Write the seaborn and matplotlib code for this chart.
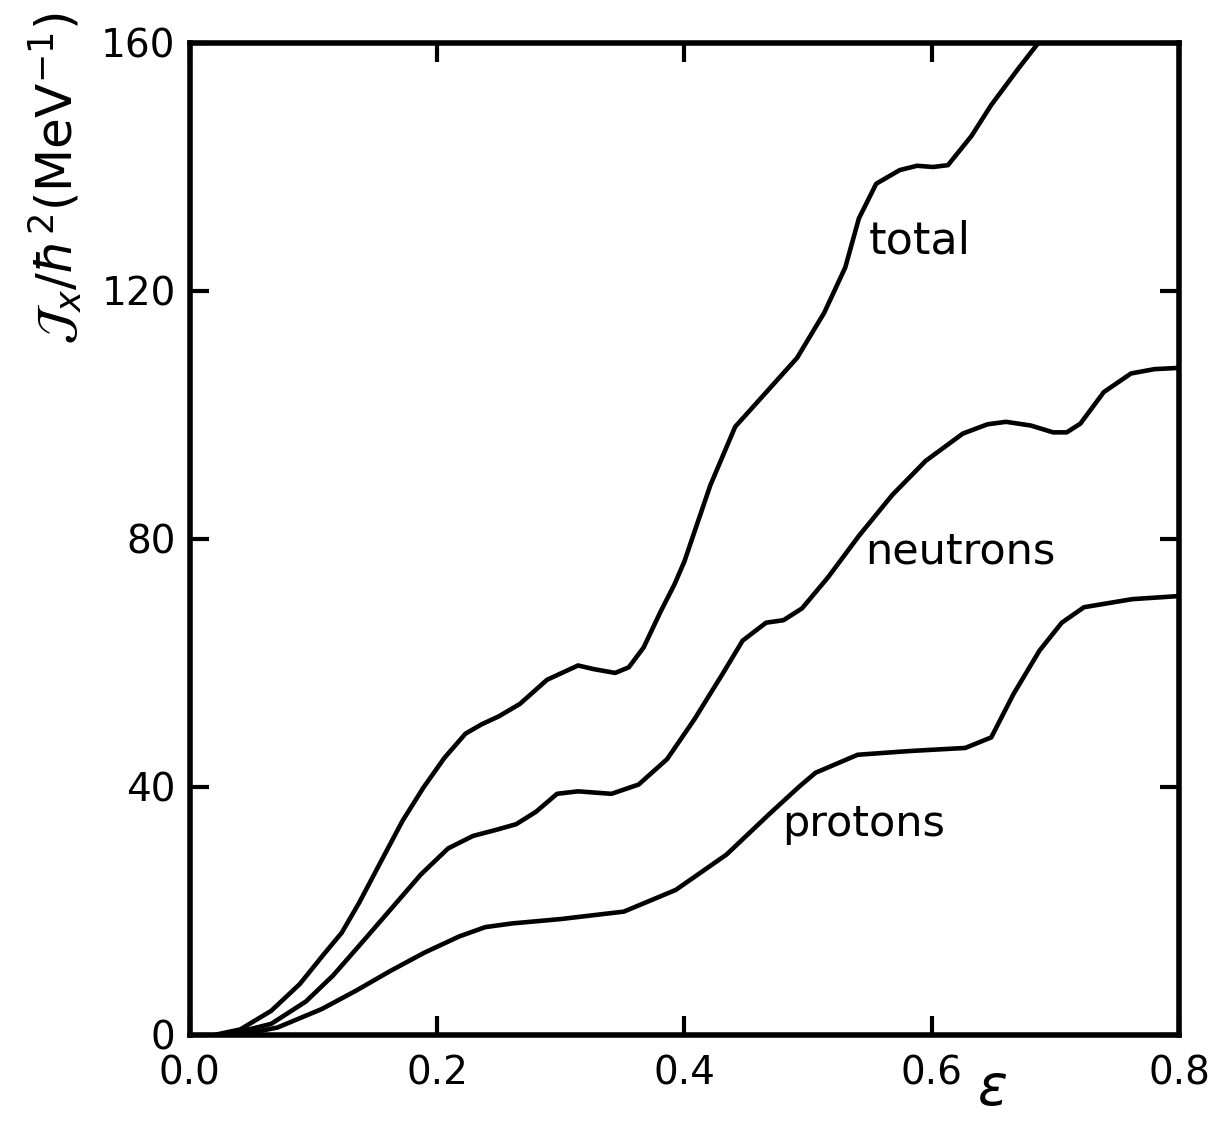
import numpy as np
import matplotlib.pyplot as plt
import pandas as pd
import seaborn as sns

# values (epsilon, J_x / hbar^2 in MeV^-1)
eps_total = [0.020, 0.041, 0.066, 0.089, 0.108, 0.123, 0.137, 0.155, 0.172, 0.189,
             0.206, 0.223, 0.236, 0.250, 0.267, 0.289, 0.314, 0.327, 0.344, 0.355,
             0.367, 0.381, 0.392, 0.400, 0.408, 0.421, 0.441, 0.464, 0.491, 0.513,
             0.530, 0.541, 0.555, 0.574, 0.588, 0.601, 0.613, 0.632, 0.648, 0.670,
             0.686]
total = [0.0, 0.9, 3.9, 8.2, 12.9, 16.5, 21.3, 28.1, 34.5, 39.9,
         44.7, 48.6, 50.1, 51.4, 53.4, 57.3, 59.6, 59.0, 58.4, 59.3,
         62.5, 68.4, 72.7, 76.4, 81.1, 88.7, 98.1, 103.2, 109.2, 116.5,
         123.8, 131.7, 137.3, 139.5, 140.2, 140.0, 140.3, 145.0, 150.0, 155.9,
         160.0]

eps_neutrons = [0.030, 0.066, 0.094, 0.116, 0.141, 0.164, 0.187, 0.209, 0.229, 0.248,
                0.264, 0.280, 0.297, 0.314, 0.341, 0.363, 0.386, 0.408, 0.431, 0.447,
                0.466, 0.480, 0.495, 0.516, 0.541, 0.568, 0.595, 0.625, 0.645, 0.660,
                0.680, 0.698, 0.709, 0.720, 0.739, 0.761, 0.780, 0.800]
neutrons = [0.0, 1.8, 5.4, 9.6, 15.3, 20.6, 25.9, 30.1, 32.1, 33.1,
            34.0, 36.0, 38.9, 39.3, 38.9, 40.4, 44.5, 50.9, 58.3, 63.6,
            66.5, 66.9, 68.8, 73.8, 80.5, 87.1, 92.6, 97.0, 98.5, 98.9,
            98.3, 97.2, 97.2, 98.6, 103.7, 106.7, 107.4, 107.6]

eps_protons = [0.040, 0.071, 0.107, 0.135, 0.162, 0.190, 0.218, 0.239, 0.261, 0.300,
               0.351, 0.393, 0.434, 0.470, 0.493, 0.506, 0.540, 0.582, 0.627, 0.648,
               0.666, 0.687, 0.705, 0.723, 0.762, 0.800]
protons = [0.0, 1.2, 4.2, 7.2, 10.3, 13.3, 15.9, 17.4, 18.0, 18.7,
           19.9, 23.4, 29.1, 35.9, 40.1, 42.3, 45.2, 45.8, 46.3, 48.0,
           55.0, 62.0, 66.5, 69.0, 70.3, 70.8]

x_ticks = [0.0, 0.2, 0.4, 0.6, 0.8]
x_ticklabels = ['0.0', '0.2', '0.4', '0.6', '0.8']
y_ticks = [0, 40, 80, 120, 160]

sns.set_style('ticks', {'axes.edgecolor': 'black', 'text.color': 'black',
                        'xtick.color': 'black', 'ytick.color': 'black'})
plt.rcParams['font.family'] = ['DejaVu Sans']

fig = plt.figure(figsize=(12.31, 11.22), dpi=100)
ax = fig.add_axes([0.154, 1 - 1035 / 1122, 0.804, (1035 - 43) / 1122])

for xs, ys in [(eps_total, total), (eps_neutrons, neutrons), (eps_protons, protons)]:
    df = pd.DataFrame({'eps': xs, 'val': ys})
    sns.lineplot(data=df, x='eps', y='val', color='black', linewidth=3.3,
                 sort=False, solid_joinstyle='round', solid_capstyle='round',
                 ax=ax)

ax.set_xlim(0, 0.8)
ax.set_ylim(0, 160)
ax.set_xticks(x_ticks)
ax.set_xticklabels(x_ticklabels)
ax.set_yticks(y_ticks)
ax.tick_params(direction='in', length=14, width=3, labelsize=28,
               top=True, right=True)
ax.tick_params(axis='x', pad=14)
ax.tick_params(axis='y', pad=10)
for s in ax.spines.values():
    s.set_linewidth(4)
ax.set_xlabel('')
ax.set_ylabel('')

ax.text(0.549, 128, 'total', fontsize=32, va='center')
ax.text(0.546, 78, 'neutrons', fontsize=31, va='center')
ax.text(0.479, 34, 'protons', fontsize=31, va='center')

fig.text(55 / 1231, 1 - 178 / 1122,
         r'$\mathcal{J}_x/\hbar^2$(MeV$^{-1}$)', rotation=90,
         fontsize=36, ha='center', va='center')
fig.text(992 / 1231, 1 - 1090 / 1122, r'$\epsilon$', fontsize=40,
         ha='center', va='center')

fig.savefig('out.png', dpi=100)
